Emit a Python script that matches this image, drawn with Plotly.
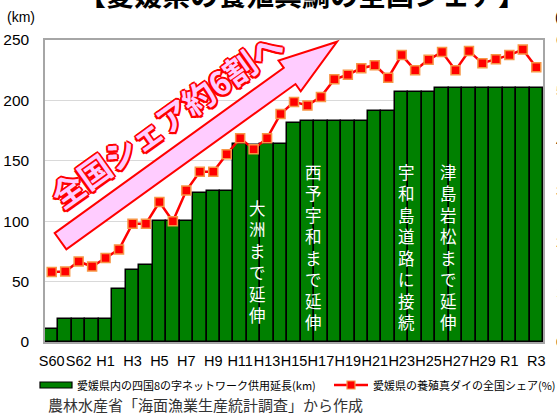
import math
import plotly.graph_objects as go

# ---------------- data ----------------
years = ["S60", "S61", "S62", "S63", "H1", "H2", "H3", "H4", "H5", "H6",
         "H7", "H8", "H9", "H10", "H11", "H12", "H13", "H14", "H15", "H16",
         "H17", "H18", "H19", "H20", "H21", "H22", "H23", "H24", "H25", "H26",
         "H27", "H28", "H29", "H30", "R1", "R2", "R3"]
network_km = [11, 19, 19, 19, 19, 44, 60, 64, 100, 100,
              100, 123, 125, 125, 164, 163, 164, 164, 181, 183,
              183, 183, 183, 183, 191, 191, 207, 207, 207, 210,
              210, 210, 210, 210, 210, 210, 210]
share_pct = [13.9, 14.0, 16.0, 15.0, 16.7, 18.4, 23.5, 23.5, 27.8, 24.0,
             30.1, 33.8, 33.8, 37.3, 40.5, 38.3, 40.5, 45.3, 47.7, 47.0,
             48.7, 52.2, 53.1, 54.4, 55.0, 52.5, 57.0, 54.0, 56.1, 57.6,
             54.0, 57.8, 55.4, 56.2, 57.0, 58.1, 54.6]
tick_labels = ["S60", "S62", "H1", "H3", "H5", "H7", "H9", "H11", "H13", "H15",
               "H17", "H19", "H21", "H23", "H25", "H27", "H29", "R1", "R3"]
km_ticks = [0, 50, 100, 150, 200, 250]
pct_ticks = [0, 10, 20, 30, 40, 50, 60]

events = ["大洲まで延伸", "西予宇和まで延伸", "宇和島道路に接続", "津島岩松まで延伸"]
event_x = [15.3, 19.43, 26.37, 29.46]
event_y = [66.5, 79, 79, 79]

title_text = "【愛媛県の養殖真鯛の全国シェア】"
arrow_text = "全国シェア約6割へ"
legend_bar = "愛媛県内の四国8の字ネットワーク供用延長(km)"
legend_line = "愛媛県の養殖真ダイの全国シェア(%)"
source_text = "農林水産省「海面漁業生産統計調査」から作成"

# ---------------- layout geometry ----------------
W, H = 557, 414
L, R, T, B = 45, 14, 40, 72
PW, PH = W - L - R, H - T - B


def px(x, y):
    return (x - L) / PW, (H - B - y) / PH


NUM = "Liberation Sans, Arial"
CJK = "Noto Sans CJK JP"

fig = go.Figure()
fig.add_bar(x=years, y=network_km, name=legend_bar,
            marker=dict(color="#008000", line=dict(color="#000000", width=1.5)))
fig.add_scatter(x=years, y=share_pct, name=legend_line, yaxis="y2",
                mode="lines+markers",
                line=dict(color="#FF0000", width=2.5),
                marker=dict(symbol="square", size=9, color="#FF0000",
                            line=dict(color="#F79646", width=1.5)))

shapes = []
annotations = []

# ---- decorative block arrow ----
th = math.radians(35.8)
u = (math.cos(th), -math.sin(th))
n = (math.sin(th), math.cos(th))
tc = 231
s0, s1, s2 = -92, 190.5, 249
hw_shaft, hw_head = 10, 19
poly_st = [(s0, tc - hw_shaft), (s1, tc - hw_shaft), (s1, tc - hw_head), (s2, tc),
           (s1, tc + hw_head), (s1, tc + hw_shaft), (s0, tc + hw_shaft)]
pts = []
for s, t in poly_st:
    X = s * u[0] + t * n[0]
    Y = s * u[1] + t * n[1]
    pts.append(px(X, Y))
path = "M " + " L ".join(f"{a:.4f},{b:.4f}" for a, b in pts) + " Z"
shapes.append(dict(type="path", xref="paper", yref="paper", path=path,
                   fillcolor="#FFCCFF", line=dict(color="#FF0000", width=2), layer="above"))

# ---- outlined rotated text ----
cx, cy = px(166, 119)
for dx, dy in [(-2, 0), (2, 0), (0, -2), (0, 2), (-1.5, -1.5), (1.5, -1.5), (-1.5, 1.5), (1.5, 1.5)]:
    annotations.append(dict(xref="paper", yref="paper", x=cx, y=cy, text="<b>" + arrow_text + "</b>",
                            showarrow=False, textangle=-35.5, xshift=dx, yshift=dy,
                            xanchor="center", yanchor="middle",
                            font=dict(family=CJK, size=32, color="#FF0000")))
annotations.append(dict(xref="paper", yref="paper", x=cx, y=cy, text="<b>" + arrow_text + "</b>",
                        showarrow=False, textangle=-35.5, xanchor="center", yanchor="middle",
                        font=dict(family=CJK, size=32, color="#FFCCFF")))

# ---- vertical event labels ----
for txt, ex, ey in zip(events, event_x, event_y):
    annotations.append(dict(x=ex, y=ey, xref="x", yref="y", text="<br>".join(list(txt)),
                            showarrow=False, font=dict(family=CJK, size=16.5, color="#FFFFFF"),
                            xanchor="center", yanchor="middle", align="center"))

# ---- title (cut off at the top) ----
tx, ty = px(302, -6)
annotations.append(dict(xref="paper", yref="paper", x=tx, y=ty, text="<b>" + title_text + "</b>",
                        showarrow=False, font=dict(family=CJK, size=28, color="#000000"),
                        xanchor="center", yanchor="middle"))

# ---- axis unit labels ----
ax_, ay_ = px(21, 17)
annotations.append(dict(xref="paper", yref="paper", x=ax_, y=ay_, text="(km)", showarrow=False,
                        xanchor="center", yanchor="middle",
                        font=dict(family=NUM, size=14, color="#000000")))
bx_, by_ = px(553, 17)
annotations.append(dict(xref="paper", yref="paper", x=bx_, y=by_, text="(%)", showarrow=False,
                        xanchor="left", yanchor="middle",
                        font=dict(family=NUM, size=14, color="#000000")))

# ---- manual legend ----
r0 = px(40, 382)
r1 = px(72, 388)
shapes.append(dict(type="rect", xref="paper", yref="paper", x0=r0[0], y0=r0[1], x1=r1[0], y1=r1[1],
                   fillcolor="#008000", line=dict(color="#000000", width=1.2)))
lx, ly = px(75, 385)
annotations.append(dict(xref="paper", yref="paper", x=lx, y=ly, text=legend_bar, showarrow=False,
                        xanchor="left", yanchor="middle",
                        font=dict(family=CJK, size=11, color="#000000")))
l0 = px(334, 385)
l1 = px(368, 385)
shapes.append(dict(type="line", xref="paper", yref="paper", x0=l0[0], y0=l0[1], x1=l1[0], y1=l1[1],
                   line=dict(color="#FF0000", width=2.5)))
m0 = px(347, 381)
m1 = px(355, 389)
shapes.append(dict(type="rect", xref="paper", yref="paper", x0=m0[0], y0=m0[1], x1=m1[0], y1=m1[1],
                   fillcolor="#FF0000", line=dict(color="#F79646", width=1.2)))
l2x, l2y = px(371, 385)
annotations.append(dict(xref="paper", yref="paper", x=l2x, y=l2y, text=legend_line, showarrow=False,
                        xanchor="left", yanchor="middle",
                        font=dict(family=CJK, size=11, color="#000000")))

# ---- source ----
sx, sy = px(46, 404)
annotations.append(dict(xref="paper", yref="paper", x=sx, y=sy, text=source_text, showarrow=False,
                        xanchor="left", yanchor="middle",
                        font=dict(family=CJK, size=15, color="#333333")))

fig.update_layout(
    width=W, height=H, template="none",
    margin=dict(l=L, r=R, t=T, b=B, autoexpand=False),
    paper_bgcolor="#FFFFFF", plot_bgcolor="#FFFFFF",
    bargap=0, showlegend=False,
    shapes=shapes, annotations=annotations,
    xaxis=dict(type="category", categoryorder="array", categoryarray=years,
               range=[-0.5, len(years) - 0.5],
               tickvals=tick_labels, ticktext=tick_labels, tickangle=0,
               tickfont=dict(family=NUM, size=14.5, color="#000000"),
               showline=True, linecolor="#A6A6A6", linewidth=1.5, mirror=True,
               ticks="", showgrid=False, ticklabelstandoff=5, automargin=False),
    yaxis=dict(range=[0, 250], tickvals=km_ticks,
               tickfont=dict(family=NUM, size=15.5, color="#000000"),
               showgrid=True, gridcolor="#D9D9D9", gridwidth=1,
               showline=True, linecolor="#A6A6A6", linewidth=1.5, mirror=True,
               ticks="", zeroline=False, ticklabelstandoff=11, automargin=False),
    yaxis2=dict(range=[0, 60], tickvals=pct_ticks, overlaying="y", side="right",
                tickfont=dict(family=NUM, size=15.5, color="#000000"),
                showgrid=False, showline=False, zeroline=False, ticks="",
                ticklabelstandoff=12, automargin=False),
)

fig.write_html("out.html", config={"displayModeBar": False},
               post_script="document.body.style.margin='0';")
